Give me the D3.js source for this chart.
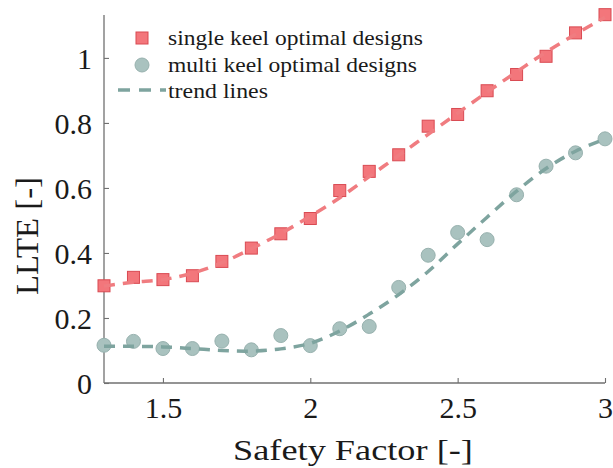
<!DOCTYPE html>
<html>
<head>
<meta charset="utf-8">
<script src="https://cdn.jsdelivr.net/npm/d3@7"></script>
<style>
  html, body { margin: 0; padding: 0; background: #ffffff; }
  svg { display: block; }
</style>
</head>
<body>
<svg id="chart" width="613" height="468"></svg>
<script>
// ---- data ----
const safetyFactor = [1.3, 1.4, 1.5, 1.6, 1.7, 1.8, 1.9, 2.0, 2.1, 2.2, 2.3, 2.4, 2.5, 2.6, 2.7, 2.8, 2.9, 3.0];
const singleKeel   = [0.299, 0.325, 0.318, 0.330, 0.374, 0.415, 0.459, 0.506, 0.592, 0.651, 0.702, 0.790, 0.826, 0.899, 0.949, 1.005, 1.077, 1.133];
const multiKeel    = [0.116, 0.128, 0.106, 0.106, 0.129, 0.102, 0.146, 0.115, 0.167, 0.174, 0.294, 0.393, 0.463, 0.441, 0.579, 0.667, 0.708, 0.751];
const singleTrend  = [0.298, 0.310, 0.318, 0.338, 0.370, 0.413, 0.460, 0.513, 0.570, 0.635, 0.700, 0.765, 0.830, 0.895, 0.957, 1.018, 1.073, 1.125];
const multiTrend   = [0.113, 0.113, 0.111, 0.106, 0.100, 0.098, 0.105, 0.122, 0.160, 0.212, 0.272, 0.343, 0.428, 0.510, 0.590, 0.660, 0.713, 0.750];
const xTicks = [1.5, 2, 2.5, 3];
const yTicks = [0, 0.2, 0.4, 0.6, 0.8, 1];
const legendLabels = ["single keel optimal designs", "multi keel optimal designs", "trend lines"];
const xTitle = "Safety Factor [-]";
const yTitle = "LLTE [-]";

// ---- style ----
const FONT = "Liberation Serif";
const textColor = "#1a1a1a";
const redFill = "#f3767b", redStroke = "#d94a52", redLine = "#f07c80";
const tealFill = "#a9c2bf", tealStroke = "#97b1ae", tealLine = "#7ea49f";
const axisColor = "#707070";

const svg = d3.select("#chart");
const x = d3.scaleLinear().domain([1.3, 3]).range([104, 605]);
const y = d3.scaleLinear().domain([0, 1.132]).range([383, 15]);

// place text at (px,py) with anchor, stretched horizontally to a target width
function stretchedText(parent, str, px, py, size, targetW, anchor, rotate) {
  const g = parent.append("g");
  const t = g.append("text").attr("font-family", FONT).attr("font-size", size)
    .attr("fill", textColor).attr("text-anchor", anchor).text(str);
  const w = t.node().getComputedTextLength();
  const sx = targetW / w;
  g.attr("transform", `translate(${px},${py})` + (rotate ? ` rotate(${rotate})` : "") + ` scale(${sx},1)`);
  return g;
}

// axes
const xAxis = d3.axisBottom(x).tickValues(xTicks).tickSize(-5).tickPadding(14)
  .tickFormat(d3.format("~g"));
const yAxis = d3.axisLeft(y).tickValues(yTicks).tickSize(-5).tickPadding(12)
  .tickFormat(d3.format("~g"));

const gx = svg.append("g").attr("transform", `translate(0,${y(0)})`).call(xAxis);
const gy = svg.append("g").attr("transform", `translate(${x(1.3)},0)`).call(yAxis);
[gx, gy].forEach(g => {
  g.attr("font-family", FONT).attr("font-size", 30);
  g.select(".domain").attr("stroke", axisColor).attr("stroke-width", 1.3);
  g.selectAll(".tick line").attr("stroke", axisColor).attr("stroke-width", 1.1);
  g.selectAll(".tick text").attr("fill", textColor);
});
gx.select(".domain").attr("d", `M${x(1.3)},0H${x(3)}`);
gy.select(".domain").attr("d", `M0,${y(0)}V${y(1.132)}`);
gy.selectAll(".tick text").attr("dy", "0.34em");
gx.selectAll(".tick text").attr("dy", "0.71em");

// axis titles
stretchedText(svg, xTitle, 353, 460, 30, 240, "middle", 0);
stretchedText(svg, yTitle, 38, 236, 32, 118, "middle", -90);

// markers
const sq = 12;
svg.append("g").selectAll("rect").data(safetyFactor).join("rect")
  .attr("x", (d) => x(d) - sq / 2)
  .attr("y", (d, i) => y(singleKeel[i]) - sq / 2)
  .attr("width", sq).attr("height", sq)
  .attr("fill", redFill).attr("stroke", redStroke).attr("stroke-width", 1);

svg.append("g").selectAll("circle").data(safetyFactor).join("circle")
  .attr("cx", (d) => x(d))
  .attr("cy", (d, i) => y(multiKeel[i]))
  .attr("r", 7)
  .attr("fill", tealFill).attr("stroke", tealStroke).attr("stroke-width", 1);

// trend lines
const line = (vals) => d3.line().x((d) => x(d)).y((d, i) => y(vals[i])).curve(d3.curveCatmullRom.alpha(0.5));
svg.append("path").datum(safetyFactor).attr("d", line(singleTrend))
  .attr("fill", "none").attr("stroke", redLine).attr("stroke-width", 3.5)
  .attr("stroke-dasharray", "11,8");
svg.append("path").datum(safetyFactor).attr("d", line(multiTrend))
  .attr("fill", "none").attr("stroke", tealLine).attr("stroke-width", 3.5)
  .attr("stroke-dasharray", "11,8");

// legend
const lg = svg.append("g");
lg.append("rect").attr("x", 142 - sq / 2).attr("y", 38 - sq / 2).attr("width", sq).attr("height", sq)
  .attr("fill", redFill).attr("stroke", redStroke).attr("stroke-width", 1);
lg.append("circle").attr("cx", 142).attr("cy", 65).attr("r", 7)
  .attr("fill", tealFill).attr("stroke", tealStroke).attr("stroke-width", 1);
lg.append("line").attr("x1", 118).attr("x2", 166).attr("y1", 90).attr("y2", 90)
  .attr("stroke", tealLine).attr("stroke-width", 3.5).attr("stroke-dasharray", "12,9");
const legW = [255, 249, 100];
const legY = [45, 72, 98];
legendLabels.forEach((t, i) => {
  stretchedText(lg, t, 168, legY[i], 22, legW[i], "start", 0);
});
</script>
</body>
</html>
